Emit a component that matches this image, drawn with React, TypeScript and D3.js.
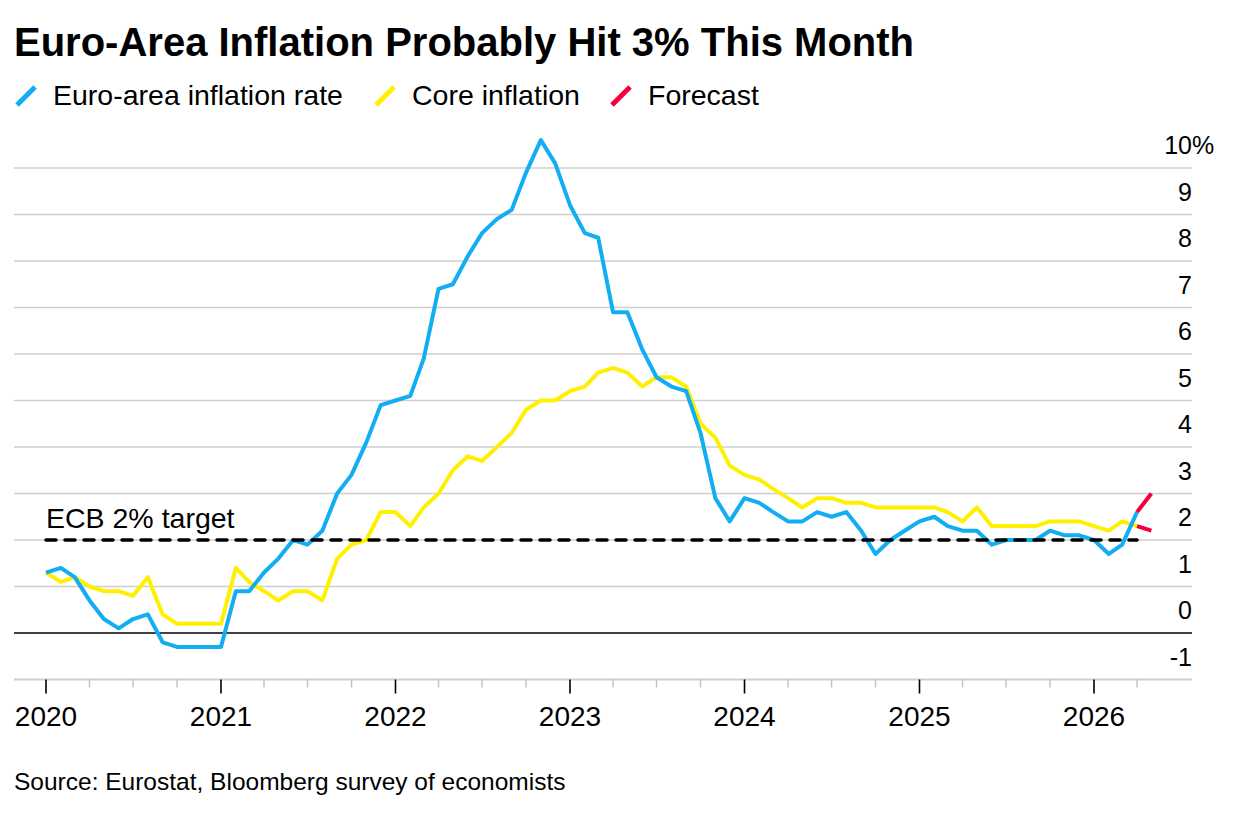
import React from "react";
import * as d3 from "d3";

// ---- Data (monthly YoY %, Dec 2019 .. Mar 2026), plotted at month end ----
const firstMonth = new Date(2019, 11, 1);
const headline = [
  1.3,
  1.4, 1.2, 0.7, 0.3, 0.1, 0.3, 0.4, -0.2, -0.3, -0.3, -0.3, -0.3,
  0.9, 0.9, 1.3, 1.6, 2.0, 1.9, 2.2, 3.0, 3.4, 4.1, 4.9, 5.0,
  5.1, 5.9, 7.4, 7.5, 8.1, 8.6, 8.9, 9.1, 9.9, 10.6, 10.1, 9.2,
  8.6, 8.5, 6.9, 6.9, 6.1, 5.5, 5.3, 5.2, 4.3, 2.9, 2.4, 2.9,
  2.8, 2.6, 2.4, 2.4, 2.6, 2.5, 2.6, 2.2, 1.7, 2.0, 2.2, 2.4,
  2.5, 2.3, 2.2, 2.2, 1.9, 2.0, 2.0, 2.0, 2.2, 2.1, 2.1, 2.0,
  1.7, 1.9, 2.6,
];
const core = [
  1.3,
  1.1, 1.2, 1.0, 0.9, 0.9, 0.8, 1.2, 0.4, 0.2, 0.2, 0.2, 0.2,
  1.4, 1.1, 0.9, 0.7, 0.9, 0.9, 0.7, 1.6, 1.9, 2.0, 2.6, 2.6,
  2.3, 2.7, 3.0, 3.5, 3.8, 3.7, 4.0, 4.3, 4.8, 5.0, 5.0, 5.2,
  5.3, 5.6, 5.7, 5.6, 5.3, 5.5, 5.5, 5.3, 4.5, 4.2, 3.6, 3.4,
  3.3, 3.1, 2.9, 2.7, 2.9, 2.9, 2.8, 2.8, 2.7, 2.7, 2.7, 2.7,
  2.7, 2.6, 2.4, 2.7, 2.3, 2.3, 2.3, 2.3, 2.4, 2.4, 2.4, 2.3,
  2.2, 2.4, 2.3,
];
const headlineForecast = 3.0;
const coreForecast = 2.2;
const ecbTarget = 2;
const yTicks = [-1, 0, 1, 2, 3, 4, 5, 6, 7, 8, 9, 10];
const yearTicks = [2020, 2021, 2022, 2023, 2024, 2025, 2026];

const BLUE = "#12adf2";
const YELLOW = "#fff000";
const RED = "#f5003d";

const legendItems = [
  { label: "Euro-area inflation rate", color: BLUE, x: 17 },
  { label: "Core inflation", color: YELLOW, x: 376 },
  { label: "Forecast", color: RED, x: 612 },
];

const FONT = "'Liberation Sans', Arial, Helvetica, sans-serif";

// ---- Layout ----
const W = 1248;
const H = 821;
const plotLeft = 14;
const plotRight = 1192;

const x = d3
  .scaleTime()
  .domain([new Date(2020, 0, 1), new Date(2026, 0, 1)])
  .range([46, 1094]);
const y = d3.scaleLinear().domain([-1, 10]).range([679.5, 168]);

const dateAt = (i: number) => d3.timeMonth.offset(firstMonth, i + 1);

type Pt = { d: Date; v: number };
const toPts = (arr: number[]): Pt[] => arr.map((v, i) => ({ d: dateAt(i), v }));

const lineGen = d3
  .line<Pt>()
  .x((p) => x(p.d))
  .y((p) => y(p.v));

export default function App() {
  const lastIdx = headline.length - 1;
  const headPts = toPts(headline);
  const corePts = toPts(core);
  const headFc: Pt[] = [
    { d: dateAt(lastIdx), v: headline[lastIdx] },
    { d: dateAt(lastIdx + 1), v: headlineForecast },
  ];
  const coreFc: Pt[] = [
    { d: dateAt(lastIdx), v: core[lastIdx] },
    { d: dateAt(lastIdx + 1), v: coreForecast },
  ];
  const minorTicks = d3.timeMonth
    .every(3)!
    .range(new Date(2020, 0, 1), new Date(2026, 4, 1))
    .filter((d) => d.getMonth() !== 0);
  const axisY = y(-1);

  return (
    <svg
      width={W}
      height={H}
      viewBox={`0 0 ${W} ${H}`}
      style={{ position: "fixed", left: 0, top: 0, background: "#fff" }}
      fontFamily={FONT}
    >
      <rect x={0} y={0} width={W} height={H} fill="#fff" />
      {/* Title */}
      <text x={14} y={56} fontSize={40} fontWeight={700} fill="#000">
        Euro-Area Inflation Probably Hit 3% This Month
      </text>
      {/* Legend */}
      {legendItems.map((it) => (
        <g key={it.label}>
          <line
            x1={it.x}
            y1={105}
            x2={it.x + 18}
            y2={87}
            stroke={it.color}
            strokeWidth={5}
          />
          <text x={it.x + 36} y={105} fontSize={28.5} fill="#000">
            {it.label}
          </text>
        </g>
      ))}

      {/* Gridlines */}
      {yTicks.map((t) => (
        <line
          key={"g" + t}
          x1={plotLeft}
          x2={plotRight}
          y1={y(t)}
          y2={y(t)}
          stroke={t === 0 ? "#000" : "#cfcfcf"}
          strokeWidth={t === 0 ? 1.6 : t === -1 ? 2 : 1.5}
        />
      ))}
      {/* Y labels */}
      {yTicks.map((t) => (
        <g key={"l" + t}>
          <text
            x={plotRight}
            y={y(t) - 14}
            fontSize={25}
            textAnchor="end"
            fill="#000"
          >
            {t}
          </text>
          {t === yTicks[yTicks.length - 1] && (
            <text x={plotRight} y={y(t) - 14} fontSize={25} fill="#000">
              %
            </text>
          )}
        </g>
      ))}

      {/* X axis ticks */}
      {minorTicks.map((d) => (
        <line
          key={"m" + d.getTime()}
          x1={x(d)}
          x2={x(d)}
          y1={axisY}
          y2={axisY + 8}
          stroke="#c4c4c4"
          strokeWidth={1.5}
        />
      ))}
      {yearTicks.map((yr) => {
        const xx = x(new Date(yr, 0, 1));
        return (
          <g key={"y" + yr}>
            <line
              x1={xx}
              x2={xx}
              y1={axisY}
              y2={axisY + 14}
              stroke="#000"
              strokeWidth={1.6}
            />
            <text x={xx} y={726} fontSize={28} textAnchor="middle" fill="#000">
              {yr}
            </text>
          </g>
        );
      })}

      {/* Series */}
      <path
        d={lineGen(corePts) || ""}
        fill="none"
        stroke={YELLOW}
        strokeWidth={4}
        strokeLinejoin="round"
      />
      <path
        d={lineGen(headPts) || ""}
        fill="none"
        stroke={BLUE}
        strokeWidth={4}
        strokeLinejoin="round"
      />
      <path d={lineGen(coreFc) || ""} fill="none" stroke={RED} strokeWidth={4} />
      <path d={lineGen(headFc) || ""} fill="none" stroke={RED} strokeWidth={4} />

      {/* ECB target */}
      <line
        x1={x(dateAt(0))}
        x2={x(dateAt(lastIdx))}
        y1={y(ecbTarget)}
        y2={y(ecbTarget)}
        stroke="#000"
        strokeWidth={3.5}
        strokeDasharray="10,9"
        strokeLinecap="round"
      />
      <text x={x(dateAt(0))} y={528} fontSize={28.5} fill="#000">
        ECB 2% target
      </text>

      {/* Source */}
      <text x={14} y={790} fontSize={24.5} fill="#000">
        Source: Eurostat, Bloomberg survey of economists
      </text>
    </svg>
  );
}
